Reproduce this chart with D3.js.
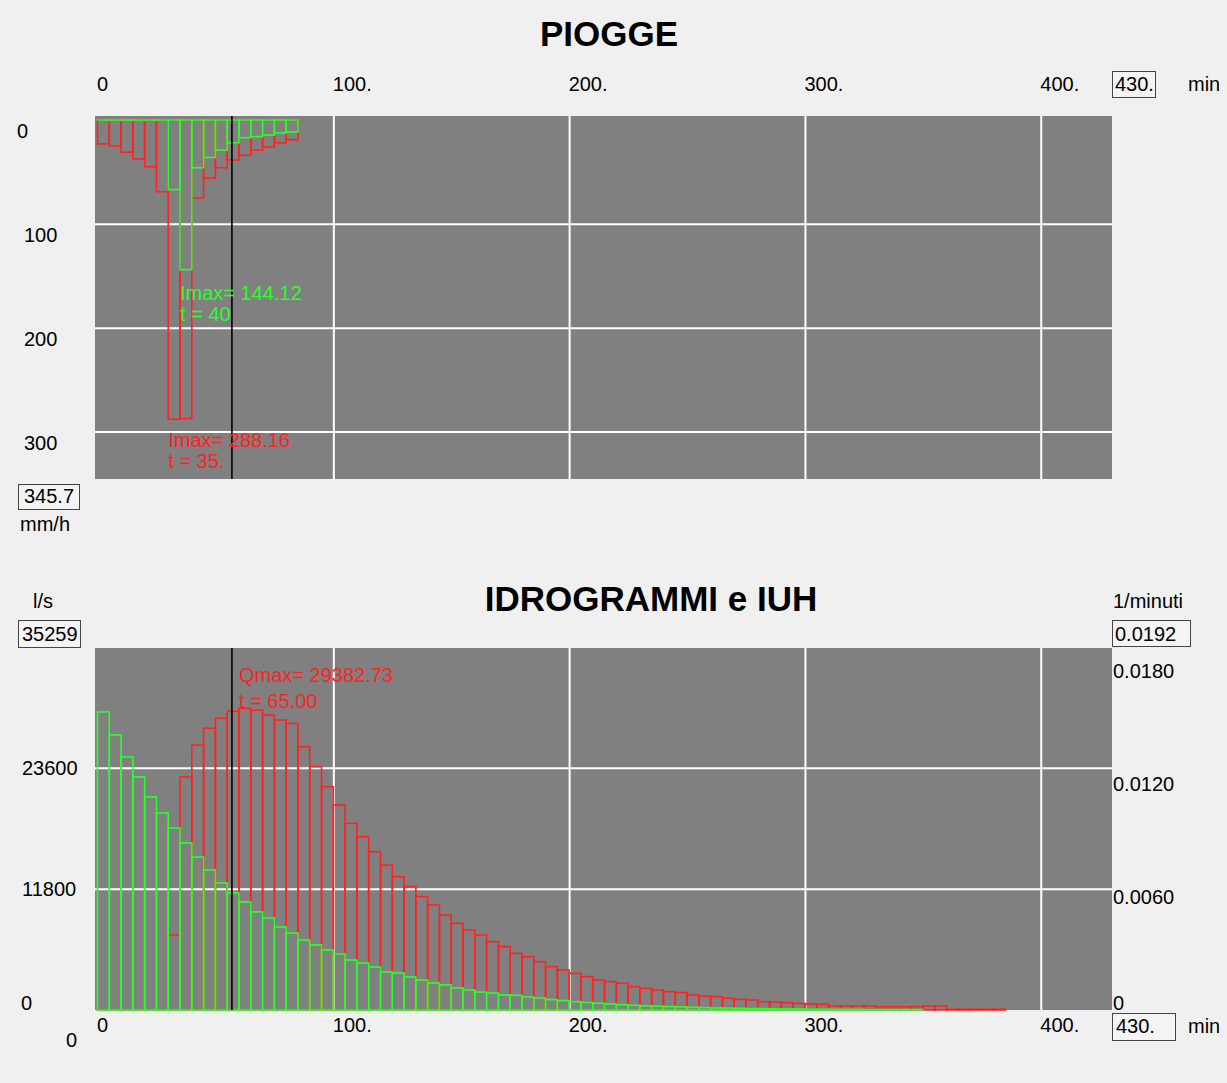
<!DOCTYPE html>
<html>
<head>
<meta charset="utf-8">
<script src="https://cdn.jsdelivr.net/npm/d3@7"></script>
<style>
  html, body { margin: 0; padding: 0; background: #f0f0f0; }
  svg { display: block; }
  text { font-family: "Liberation Sans", Arial, sans-serif; }
</style>
</head>
<body>
<svg id="chart" width="1227" height="1083"></svg>
<script>
// ---------------- DATA ----------------
const timeStep = 5;               // minutes per bar
const tMax = 430;                 // minutes
const rainMax = 345.7;            // mm/h
const flowMax = 35259;            // l/s
const iuhMax = 0.0192;            // 1/minuti
const markerT = 57;               // black vertical marker (min)

// PIOGGE: total rain (red) and net rain (green), mm/h, 5-min steps
const rainTotal = [23, 25, 31, 37.5, 45, 69, 288.16, 287.5, 75, 56, 46, 38.5, 34, 29, 26, 22, 19];
const rainNet   = [0, 0, 0, 0, 0, 0, 67, 144.12, 46, 36, 29, 22, 17, 16, 14.5, 12.5, 11.5];

// IDROGRAMMI: hydrograph (red, l/s) and IUH (green, 1/min), 5-min steps
const hydro = [0, 0, 0, 0, 0, 0, 7300, 22700, 25800, 27440, 28410, 29100, 29382.73, 29200, 28730,
  28240, 27920, 25640, 23700, 21750, 19970, 18180, 16880, 15420, 14120, 12980, 12010, 11040, 10230,
  9250, 8440, 7790, 7300, 6650, 6170, 5520, 5190, 4700, 4220, 3900, 3570, 3250, 2920, 2760, 2600,
  2270, 2110, 1950, 1780, 1700, 1460, 1360, 1300, 1140, 1040, 970, 810, 780, 710, 650, 580, 560,
  390, 390, 390, 390, 320, 320, 320, 320, 390, 390, 70, 70, 70, 70, 70];
const iuh = [0.01581, 0.01459, 0.01342, 0.01236, 0.0113, 0.01045, 0.00965, 0.00886, 0.00811, 0.00743,
  0.00674, 0.00621, 0.00573, 0.0052, 0.00488, 0.0044, 0.00408, 0.00371, 0.00345, 0.00318,
  0.00297, 0.00265, 0.00249, 0.00228, 0.00202, 0.00196, 0.00175, 0.00159, 0.00143, 0.00133,
  0.00117, 0.00106, 0.00095, 0.0009, 0.0008, 0.00078, 0.00069, 0.00064, 0.00055, 0.0005,
  0.00044, 0.0004, 0.00036, 0.00032, 0.00028, 0.00025, 0.00022, 0.0002, 0.00018, 0.00016,
  0.00014, 0.00013, 0.00011, 0.0001, 0.00009, 0.00008, 0.00007, 0.00006, 0.00005, 0.00005,
  0.00004, 0.00004, 0.00003, 0.00003, 0.00003, 0.00002, 0.00002, 0.00002, 0.00002, 0.00002];

// ticks
const xTicks = [0, 100, 200, 300, 400];
const xTickLabels = ["0", "100.", "200.", "300.", "400."];
const xGrid = [100, 200, 300, 400];
const rainTicks = [0, 100, 200, 300];
const rainGrid = [100, 200, 300];
const flowTicks = [0, 11800, 23600];
const flowGrid = [11800, 23600];
const iuhTicks = [0, 0.006, 0.012, 0.018];
const iuhTickLabels = ["0", "0.0060", "0.0120", "0.0180"];

// peaks / annotations
const rainNetPeak = { v: 144.12, t: 40, label: "Imax= 144.12", tlabel: "t = 40" };
const rainTotPeak = { v: 288.16, t: 35, label: "Imax= 288.16", tlabel: "t = 35." };
const flowPeak = { v: 29382.73, t: 65, label: "Qmax= 29382.73", tlabel: "t = 65.00" };

// ---------------- DRAW ----------------
const RED = "#ff2222", GREEN = "#2bff2b", PLOT = "#808080";
const FS = 20;
const svg = d3.select("#chart");

svg.append("defs").html(
  '<clipPath id="page"><rect x="0" y="0" width="1219" height="1083"/></clipPath>' +
  '<clipPath id="box35"><rect x="19" y="621" width="60" height="25"/></clipPath>');
const root = svg.append("g").attr("clip-path", "url(#page)");

const x = d3.scaleLinear().domain([0, tMax]).range([97.5, 1111.5]);
const yRain = d3.scaleLinear().domain([0, rainMax]).range([120, 479]);
const yFlow = d3.scaleLinear().domain([0, flowMax]).range([1010, 648]);
const yIuh = d3.scaleLinear().domain([0, iuhMax]).range([1010, 648]);

const plotL = 95, plotR = 1112;
const topP = { t: 116, b: 479 }, botP = { t: 648, b: 1010 };

function txt(g, s, px, py, opts = {}) {
  return g.append("text").attr("x", px).attr("y", py)
    .attr("font-size", opts.size || FS)
    .attr("font-weight", opts.weight || "normal")
    .attr("fill", opts.fill || "#000")
    .attr("text-anchor", opts.anchor || "start")
    .text(s);
}
function box(g, bx, by, bw, bh) {
  g.append("rect").attr("x", bx + 0.5).attr("y", by + 0.5).attr("width", bw).attr("height", bh)
    .attr("fill", "#f4f4f4").attr("stroke", "#444").attr("stroke-width", 1);
}

// ===== Titles =====
txt(root, "PIOGGE", 609, 46, { size: 35, weight: "bold", anchor: "middle" });
txt(root, "IDROGRAMMI e IUH", 651, 611, { size: 35, weight: "bold", anchor: "middle" });

// ===== TOP CHART =====
root.append("rect").attr("x", plotL).attr("y", topP.t).attr("width", plotR - plotL).attr("height", topP.b - topP.t).attr("fill", PLOT);

const gTopGridX = root.append("g").attr("transform", `translate(0,${topP.b})`)
  .call(d3.axisBottom(x).tickValues(xGrid).tickSize(-(topP.b - topP.t)).tickFormat(""));
const gTopGridY = root.append("g").attr("transform", `translate(${plotL},0)`)
  .call(d3.axisLeft(yRain).tickValues(rainGrid).tickSize(-(plotR - plotL)).tickFormat(""));
[gTopGridX, gTopGridY].forEach(g => {
  g.select(".domain").remove();
  g.selectAll("line").attr("stroke", "#fff").attr("stroke-width", 2);
});

function hangBars(data, color) {
  root.append("g").selectAll("rect").data(data).join("rect")
    .attr("x", (d, i) => x(i * timeStep))
    .attr("y", yRain(0))
    .attr("width", (d, i) => x((i + 1) * timeStep) - x(i * timeStep))
    .attr("height", d => Math.max(0.01, yRain(d) - yRain(0)))
    .attr("fill", "none").attr("stroke", color).attr("stroke-width", 1.6);
}
hangBars(rainTotal, RED);
hangBars(rainNet, GREEN);

root.append("line").attr("x1", x(markerT)).attr("x2", x(markerT)).attr("y1", topP.t).attr("y2", topP.b)
  .attr("stroke", "#000").attr("stroke-width", 1.6);

txt(root, rainNetPeak.label, x(rainNetPeak.t - timeStep), yRain(rainNetPeak.v) + 30, { fill: GREEN });
txt(root, rainNetPeak.tlabel, x(rainNetPeak.t - timeStep), yRain(rainNetPeak.v) + 51, { fill: GREEN });
txt(root, rainTotPeak.label, x(rainTotPeak.t - timeStep), yRain(rainTotPeak.v) + 28, { fill: RED });
txt(root, rainTotPeak.tlabel, x(rainTotPeak.t - timeStep), yRain(rainTotPeak.v) + 49, { fill: RED });

const gTopX = root.append("g").attr("transform", "translate(0,91)")
  .call(d3.axisTop(x).tickValues(xTicks).tickSize(0).tickPadding(0).tickFormat((d, i) => xTickLabels[i]));
gTopX.select(".domain").remove();
gTopX.selectAll("text").attr("font-size", FS).attr("fill", "#000").attr("text-anchor", "start")
  .attr("font-family", "Liberation Sans, Arial, sans-serif").attr("dx", -1).attr("dy", 0);

rainTicks.forEach(v => {
  txt(root, String(v), v === 0 ? 17 : 24, yRain(v) + 18);
});

box(root, 1112, 71, 43, 26); txt(root, String(tMax) + ".", 1115, 91);
txt(root, "min", 1188, 91);
box(root, 18, 484, 61, 25); txt(root, String(rainMax), 24, 503);
txt(root, "mm/h", 20, 531);

// ===== BOTTOM CHART =====
root.append("rect").attr("x", plotL).attr("y", botP.t).attr("width", plotR - plotL).attr("height", botP.b - botP.t).attr("fill", PLOT);
const gBotGridX = root.append("g").attr("transform", `translate(0,${botP.b})`)
  .call(d3.axisBottom(x).tickValues(xGrid).tickSize(-(botP.b - botP.t)).tickFormat(""));
const gBotGridY = root.append("g").attr("transform", `translate(${plotL},0)`)
  .call(d3.axisLeft(yFlow).tickValues(flowGrid).tickSize(-(plotR - plotL)).tickFormat(""));
[gBotGridX, gBotGridY].forEach(g => {
  g.select(".domain").remove();
  g.selectAll("line").attr("stroke", "#fff").attr("stroke-width", 2);
});

function riseBars(data, y, color) {
  root.append("g").selectAll("rect").data(data).join("rect")
    .attr("x", (d, i) => x(i * timeStep))
    .attr("y", d => y(d))
    .attr("width", (d, i) => x((i + 1) * timeStep) - x(i * timeStep))
    .attr("height", d => Math.max(0.01, y(0) - y(d)))
    .attr("fill", "none").attr("stroke", color).attr("stroke-width", 1.6);
}
riseBars(hydro, yFlow, RED);
riseBars(iuh, yIuh, GREEN);

root.append("line").attr("x1", x(markerT)).attr("x2", x(markerT)).attr("y1", botP.t).attr("y2", botP.b)
  .attr("stroke", "#000").attr("stroke-width", 1.6);

txt(root, flowPeak.label, x(flowPeak.t - timeStep), yFlow(flowPeak.v) - 26, { fill: RED });
txt(root, flowPeak.tlabel, x(flowPeak.t - timeStep), yFlow(flowPeak.v) - 0.5, { fill: RED });

const gBotX = root.append("g").attr("transform", "translate(0,1032)")
  .call(d3.axisTop(x).tickValues(xTicks).tickSize(0).tickPadding(0).tickFormat((d, i) => xTickLabels[i]));
gBotX.select(".domain").remove();
gBotX.selectAll("text").attr("font-size", FS).attr("fill", "#000").attr("text-anchor", "start")
  .attr("font-family", "Liberation Sans, Arial, sans-serif").attr("dx", -1).attr("dy", 0);
txt(root, "0", 66, 1047);

flowTicks.forEach(v => {
  txt(root, String(v), v === 0 ? 21 : 22, Math.min(yFlow(v) + 7, botP.b));
});
iuhTicks.forEach((v, i) => {
  txt(root, iuhTickLabels[i], 1113, Math.min(yIuh(v) + 7, botP.b));
});

txt(root, "l/s", 33, 608);
box(root, 18, 620, 62, 27);
root.append("g").attr("clip-path", "url(#box35)").call(g => txt(g, String(flowMax), 22, 641));
txt(root, "1/minuti", 1113, 608);
box(root, 1112, 620, 78, 26); txt(root, String(iuhMax), 1115, 641);

box(root, 1112, 1013, 63, 27); txt(root, String(tMax) + ".", 1116, 1033);
txt(root, "min", 1188, 1033);
</script>
</body>
</html>
